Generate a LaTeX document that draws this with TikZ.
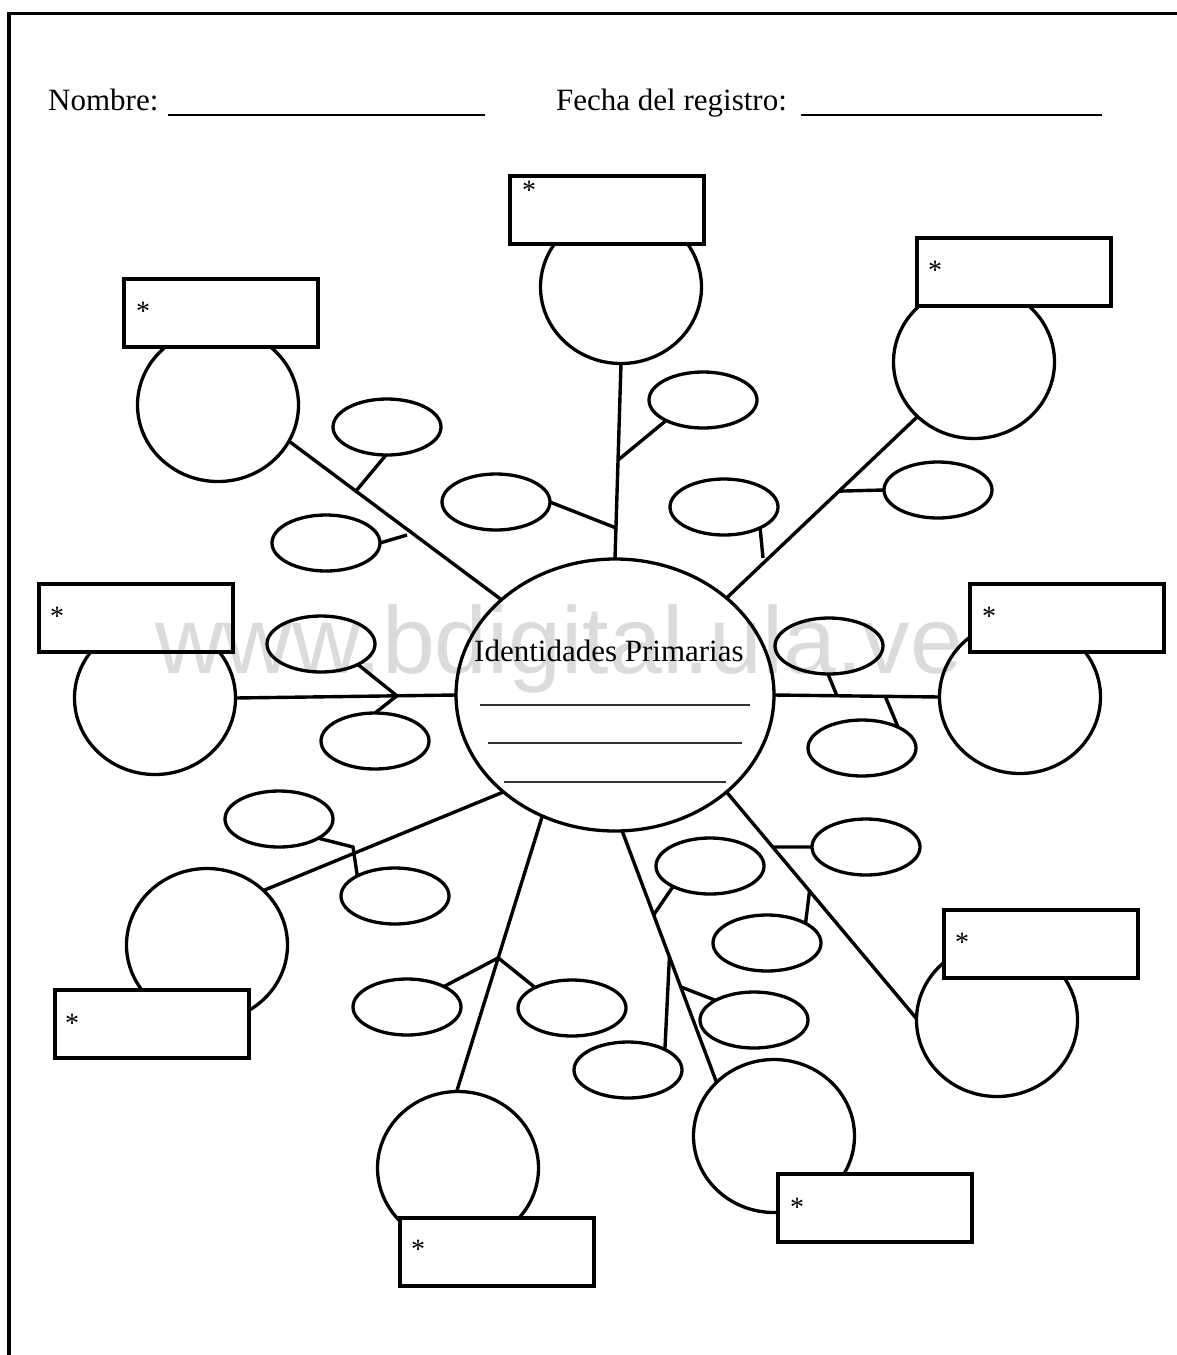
\documentclass[tikz,border=0pt]{standalone}
\usepackage{fontspec}
\setmainfont{Liberation Serif}
\newfontfamily\wmfont{Liberation Sans}
\usetikzlibrary{shapes.geometric,calc}
\begin{document}
\begin{tikzpicture}[x=1pt,y=-1pt,
  big/.style={ellipse,draw,line width=3.3pt,minimum width=161pt,minimum height=153pt,inner sep=0pt,outer sep=0pt},
  small/.style={ellipse,draw,line width=3.3pt,minimum width=108pt,minimum height=56pt,inner sep=0pt,outer sep=0pt},
  lbl/.style={rectangle,draw,line width=4pt,minimum width=194pt,minimum height=68pt,inner sep=0pt,outer sep=0pt,fill=white},
  conn/.style={line width=3.4pt},
  starmark/.style={font=\fontsize{28}{28}\selectfont,inner sep=0pt,anchor=base},
  blank/.style={line width=1.7pt,black!80},
  hdr/.style={font=\fontsize{31}{31}\selectfont,inner sep=0pt,anchor=base west},
]
\useasboundingbox (0,0) rectangle (1177,1355);
\fill[white] (0,0) rectangle (1177,1355);

% page frame
\coordinate (fbl) at (9,1360);
\coordinate (ftl) at (9,13.5);
\coordinate (ftr) at (1182,13.5);
\draw[line width=3.4pt] (fbl) -- (ftl) -- (ftr);

% header
\node[hdr] (nombre) at (48,110) {Nombre:};
\node[hdr] (fecha) at (556,110) {Fecha del registro:};
\coordinate (n1) at (168,115); \coordinate (n2) at (485,115);
\coordinate (f1) at (801,115); \coordinate (f2) at (1102,115);
\draw[line width=1.7pt] (n1) -- (n2);
\draw[line width=1.7pt] (f1) -- (f2);

% central ellipse
\node[ellipse,draw,line width=3.3pt,minimum width=318pt,minimum height=272pt,inner sep=0pt,outer sep=0pt] (c) at (615,695) {};
\node[hdr] (ctext) at (474,661) {Identidades Primarias};
\coordinate (l1a) at (480,705); \coordinate (l1b) at (750,705);
\coordinate (l2a) at (488,743); \coordinate (l2b) at (742,743);
\coordinate (l3a) at (504,782); \coordinate (l3b) at (726,782);
\draw[blank] (l1a) -- (l1b);
\draw[blank] (l2a) -- (l2b);
\draw[blank] (l3a) -- (l3b);

% big circles
\node[big] (b1) at (621,287) {};
\node[big] (b2) at (974,362) {};
\node[big] (b3) at (218,405) {};
\node[big] (b4) at (155,698) {};
\node[big] (b5) at (1020,697) {};
\node[big] (b6) at (207,945) {};
\node[big] (b7) at (458,1168) {};
\node[big] (b8) at (774,1136) {};
\node[big] (b9) at (997,1020) {};

% small ellipses
\node[small] (s1) at (703,400) {};
\node[small] (s2) at (496,502) {};
\node[small] (s3) at (724,507) {};
\node[small] (s4) at (938,490) {};
\node[small] (s5) at (387,427) {};
\node[small] (s6) at (326,543) {};
\node[small] (s7) at (321,644) {};
\node[small] (s8) at (375,741) {};
\node[small] (s9) at (829,646) {};
\node[small] (s10) at (862,748) {};
\node[small] (s11) at (279,819) {};
\node[small] (s12) at (395,896) {};
\node[small] (s13) at (407,1007) {};
\node[small] (s14) at (572,1008) {};
\node[small] (s15) at (710,866) {};
\node[small] (s16) at (628,1070) {};
\node[small] (s17) at (754,1020) {};
\node[small] (s18) at (866,847) {};
\node[small] (s19) at (767,943) {};

% free ends and bends
\coordinate (stub3) at (763,558);
\coordinate (stub6) at (407,535);
\coordinate (bend11) at (353,847);

% top centre
\draw[conn] (c.90) -- (b1.-90);
\draw[conn] ($(c.90)!0.506!(b1.-90)$) -- (s1.209);
\draw[conn] (s2.0) -- ($(c.90)!0.159!(b1.-90)$);
\draw[conn] (s3.-30) -- (stub3);
% top right
\draw[conn] (c.41) -- (b2.-136);
\draw[conn] ($(c.41)!0.589!(b2.-136)$) -- (s4.180);
% top left
\draw[conn] (b3.-27) -- (c.140);
\draw[conn] ($(b3.-27)!0.315!(c.140)$) -- (s5.-92);
\draw[conn] (s6.0) -- (stub6);
% left
\draw[conn] (b4.0) -- (c.180);
\draw[conn] ($(b4.0)!0.732!(c.180)$) -- (s7.-29);
\draw[conn] ($(b4.0)!0.732!(c.180)$) -- (s8.90);
% right
\draw[conn] (c.0) -- (b5.180);
\draw[conn] ($(c.0)!0.38!(b5.180)$) -- (s9.-92);
\draw[conn] ($(c.0)!0.672!(b5.180)$) -- (s10.30);
% bottom left
\draw[conn] (c.221) -- (b6.44);
\draw[conn] (s11.-26) -- (bend11) -- (s12.152);
% bottom left centre
\draw[conn] (c.239) -- (b7.91);
\draw[conn] ($(c.239)!0.515!(b7.91)$) -- (s13.29);
\draw[conn] ($(c.239)!0.515!(b7.91)$) -- (s14.151);
% bottom right centre
\draw[conn] (c.273) -- (b8.137);
\draw[conn] ($(c.273)!0.334!(b8.137)$) -- (s15.209);
\draw[conn] ($(c.273)!0.501!(b8.137)$) -- (s16.29);
\draw[conn] ($(c.273)!0.62!(b8.137)$) -- (s17.153);
% bottom right
\draw[conn] (c.-41) -- (b9.179);
\draw[conn] ($(c.-41)!0.243!(b9.179)$) -- (s18.180);
\draw[conn] ($(c.-41)!0.437!(b9.179)$) -- (s19.27);

% label boxes
\node[lbl] (r1) at (607,210) {};
\node[lbl] (r2) at (1013.5,271.5) {};
\node[lbl] (r3) at (220.5,312.5) {};
\node[lbl] (r4) at (136,618) {};
\node[lbl] (r5) at (1066.5,618) {};
\node[lbl] (r6) at (1040.5,943.5) {};
\node[lbl] (r7) at (152,1023.5) {};
\node[lbl] (r8) at (874.5,1207.5) {};
\node[lbl] (r9) at (496.5,1251.5) {};

\node[starmark] (t1) at (529,199) {*};
\node[starmark] (t2) at (935,279) {*};
\node[starmark] (t3) at (143,320) {*};
\node[starmark] (t4) at (57,625) {*};
\node[starmark] (t5) at (989,625) {*};
\node[starmark] (t6) at (962,951) {*};
\node[starmark] (t7) at (72,1032) {*};
\node[starmark] (t8) at (797,1216) {*};
\node[starmark] (t9) at (418,1258) {*};

% watermark
\node[font=\wmfont\fontsize{95}{95}\selectfont,text=black,text opacity=0.14,inner sep=0pt,anchor=base west] (wm) at (155,673) {www.bdigital.ula.ve};
\end{tikzpicture}
\end{document}
